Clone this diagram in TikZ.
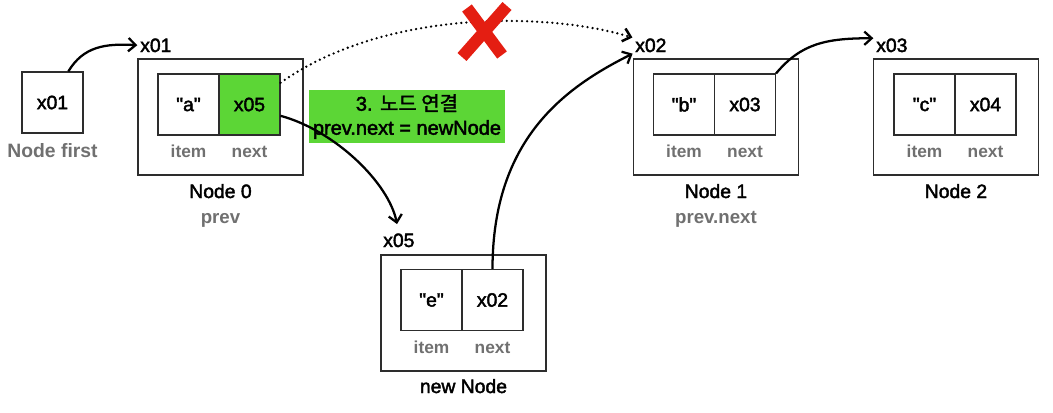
\documentclass[tikz,border=0pt]{standalone}
\usepackage{fontspec}
\setmainfont{Liberation Sans}
\newfontfamily\medfont{Liberation Sans}[FakeBold=2.2]
\newfontfamily\krfont{Noto Sans CJK KR}[FakeBold=1.5]
\usepackage{tikz}
\usetikzlibrary{arrows.meta}
\usetikzlibrary{positioning}

\definecolor{boxline}{RGB}{45,45,45}
\definecolor{labelgray}{RGB}{112,112,112}
\definecolor{nextgreen}{RGB}{92,214,54}
\definecolor{crossred}{RGB}{228,30,18}

\newcommand{\qt}[1]{\char34 #1\char34}

\tikzset{
  cell/.style={draw=boxline,line width=0.8pt,minimum width=45.75pt,minimum height=45.75pt,inner sep=0pt,font=\fontsize{14.5}{17}\medfont},
  nodebox/.style={draw=boxline,line width=0.8pt,minimum width=123.75pt,minimum height=87pt,inner sep=0pt},
  addr/.style={anchor=base west,inner sep=0pt,font=\fontsize{14.5}{17}\medfont},
  title/.style={anchor=base,inner sep=0pt,font=\fontsize{14.5}{17}\medfont},
  role/.style={anchor=base,inner sep=0pt,text=labelgray,font=\fontsize{14}{17}\selectfont\bfseries},
  field/.style={anchor=base,inner sep=0pt,text=labelgray,font=\fontsize{13}{15}\selectfont\bfseries},
  link/.style={line width=1.7pt,-{Straight Barb[length=5.5pt,width=10pt]},shorten >=2pt},
  cross/.style={crossred,line width=9pt}
}

\begin{document}
\begin{tikzpicture}[x=0.75pt,y=0.75pt,yscale=-1]
\useasboundingbox (0,0) rectangle (1053,412);

% first
\node [cell] (first) at (52.5,102.5) {x01};
\node [role,font=\fontsize{14.5}{17}\selectfont\bfseries] (firstname) at (52.5,157) {Node first};

% node 0
\node [nodebox] (n0) at (220.5,117) {};
\node [cell] (n0item) at (188.5,104.5) {\qt{a}};
\node [cell,fill=nextgreen] (n0next) at (249.5,104.5) {x05};
\node [field] (n0itemlbl) at (188.5,157) {item};
\node [field] (n0nextlbl) at (249.5,157) {next};
\node [addr] (x01) at (140,52) {x01};
\node [title] (n0name) at (220.5,198) {Node 0};
\node [role] (n0role) at (220.5,223) {prev};

% node 1
\node [nodebox] (n1) at (716,117) {};
\node [cell] (n1item) at (684,104.5) {\qt{b}};
\node [cell] (n1next) at (745,104.5) {x03};
\node [field] (n1itemlbl) at (684,157) {item};
\node [field] (n1nextlbl) at (745,157) {next};
\node [addr] (x02) at (635,52) {x02};
\node [title] (n1name) at (716,198) {Node 1};
\node [role] (n1role) at (716,223) {prev.next};

% node 2
\node [nodebox] (n2) at (956,117) {};
\node [cell] (n2item) at (924.5,104.5) {\qt{c}};
\node [cell] (n2next) at (985.5,104.5) {x04};
\node [field] (n2itemlbl) at (924.5,157) {item};
\node [field] (n2nextlbl) at (985.5,157) {next};
\node [addr] (x03) at (876,52) {x03};
\node [title] (n2name) at (956,198) {Node 2};

% new node
\node [nodebox] (n5) at (463.5,313) {};
\node [cell] (n5item) at (431.5,300) {\qt{e}};
\node [cell] (n5next) at (492.5,300) {x02};
\node [field] (n5itemlbl) at (431.5,353) {item};
\node [field] (n5nextlbl) at (492.5,353) {next};
\node [addr] (x05) at (383,247) {x05};
\node [title] (n5name) at (463.5,393) {new Node};

% step label
\node [fill=nextgreen,minimum width=147pt,minimum height=39.75pt,inner sep=0pt,align=center,font=\fontsize{15}{18}\medfont] (step) at (407,116.5) {3. {\krfont 노드 연결}\\prev.next = newNode};

% links
\draw [link] (first.63) .. controls +(15,-25) and +(-35,-2) .. (x01.west);
\draw [link,line width=1.9pt,line cap=round,dash pattern=on 0pt off 3.8pt] (n0next.35) .. controls +(100,-71) and +(-95,-28) .. (x02.north west);
\draw [link,shorten >=7pt] (n0next.-20) .. controls +(55,15) and +(-10,-50) .. (x05.north);
\draw [link] (n5next.north) .. controls +(0,-130) and +(-70,35) .. (x02.south west);
\draw [link] (n1next.north east) .. controls +(25,-30) and +(-50,0) .. (x03.north west);

% broken link
\draw [cross] (467,8) -- (502,55);
\draw [cross] (507,6) -- (462,57);

\end{tikzpicture}
\end{document}
